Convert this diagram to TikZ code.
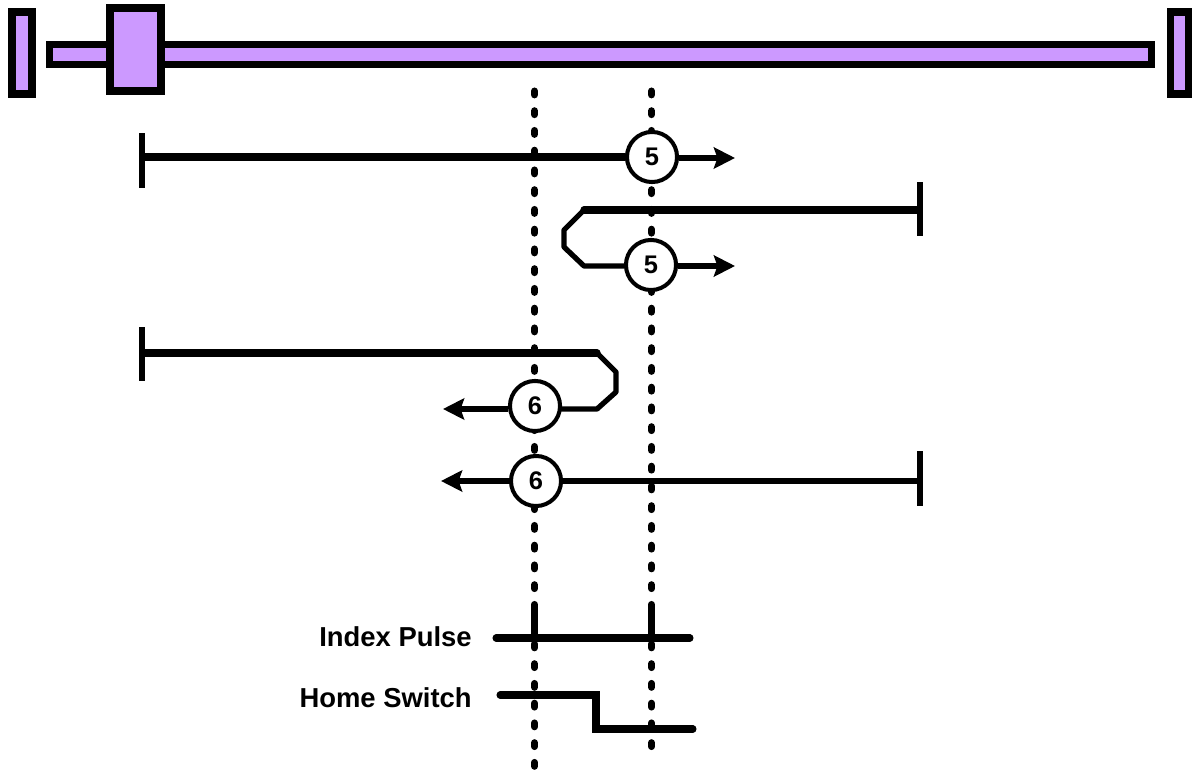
\documentclass[tikz,border=0pt]{standalone}
\usepackage{fontspec}
\setmainfont{Liberation Sans}
\usetikzlibrary{arrows.meta,positioning}
\definecolor{railfill}{HTML}{CC99FF}

\begin{document}
\begin{tikzpicture}[
  x=0.02cm,y=-0.02cm,
  font=\bfseries,
  rail/.style={draw=black,fill=railfill,line width=4pt,inner sep=0pt},
  stopbar/.style={fill=black,inner sep=0pt,minimum width=3.3pt,minimum height=31pt},
  mode/.style={circle,draw=black,fill=white,line width=2.3pt,inner sep=0pt,
               minimum size=28.5pt,font=\bfseries\fontsize{14.5}{14.5}\selectfont},
  sync/.style={line width=4pt,line cap=round,dash pattern=on 2.2pt off 9.04pt},
  travel/.style={line width=4.2pt,line cap=round},
  flow/.style={-{Stealth[length=12pt,width=12pt,inset=2pt]},line width=3pt},
  lane/.style={line width=3pt,line join=bevel,line cap=round},
  signal/.style={line width=4pt,line cap=round},
  caption/.style={anchor=base east,inner sep=0pt,font=\bfseries\fontsize{15.6}{15.6}\selectfont}]
  \useasboundingbox (0,0) rectangle (1195,773);
  % track
  \node[rail,minimum width=22.06cm,minimum height=0.4cm] (track) at (600.5,54.5) {};
  \node[rail,minimum width=0.4cm,minimum height=1.64cm] (stopl) at (22,53) {};
  \node[rail,minimum width=0.36cm,minimum height=1.64cm] (stopr) at (1179,53) {};
  \node[rail,minimum width=1.02cm,minimum height=1.66cm] (slider) at (135.5,49.5) {};
  % index lines
  \coordinate (idxat) at (534.5,91);
  \coordinate (idxab) at (534.5,772);
  \coordinate (idxbt) at (651.5,91);
  \coordinate (idxbb) at (651.5,752);
  \draw[sync] (idxat) -- (idxab);
  \draw[sync] (idxbt) -- (idxbb);
  % start marks
  \node[stopbar] (sa) at (142,160.5) {};
  \node[stopbar] (sb) at (920,209) {};
  \node[stopbar] (sc) at (142,354) {};
  \node[stopbar] (sd) at (920,478.5) {};
  % homing modes
  \node[mode] (ma) at (652,157) {5};
  \node[mode] (mb) at (651,265) {5};
  \node[mode] (mc) at (535,406) {6};
  \node[mode] (md) at (536,481) {6};
  \coordinate (ta) at (735,158);
  \coordinate (tb) at (735,266);
  \coordinate (tc) at (443,409);
  \coordinate (td) at (441,481);
  \draw[travel] (sa.east |- ma) -- (ma);
  \draw[flow] (ma.east |- ta) -- (ta);
  \coordinate (ba) at (584,210);
  \coordinate (bb) at (597,353);
  \draw[travel] (sb.west |- ba) -- (ba);
  \draw[lane] (ba) -- ++(-20,20) -- ++(0,17) -- ++(20,19) -- (mb.west |- tb);
  \draw[flow] (mb.east |- tb) -- (tb);
  \draw[travel] (sc.east |- bb) -- (bb);
  \draw[lane] (bb) -- ++(19,19) -- ++(0,20) -- ++(-19,17) -- (mc.east |- tc);
  \draw[flow] (mc.west |- tc) -- (tc);
  \draw[lane] (sd.west |- md) -- (md);
  \draw[flow] (md) -- (td);
  % signals
  \node[caption] (pulse) at (472,646) {Index Pulse};
  \node[caption] (switch) at (472,707) {Home Switch};
  \coordinate (pl) at (496,638);
  \coordinate (pr) at (690,638);
  \coordinate (pa) at (534.5,608);
  \coordinate (pb) at (651.5,608);
  \draw[signal] (pl) -- (pr);
  \draw[signal] (pa) -- (pa |- pl);
  \draw[signal] (pb) -- (pb |- pl);
  \coordinate (hl) at (500,695);
  \coordinate (hm) at (596,695);
  \coordinate (hr) at (693,729);
  \draw[signal,line join=miter] (hl) -- (hm) -- (hm |- hr) -- (hr);
\end{tikzpicture}
\end{document}
